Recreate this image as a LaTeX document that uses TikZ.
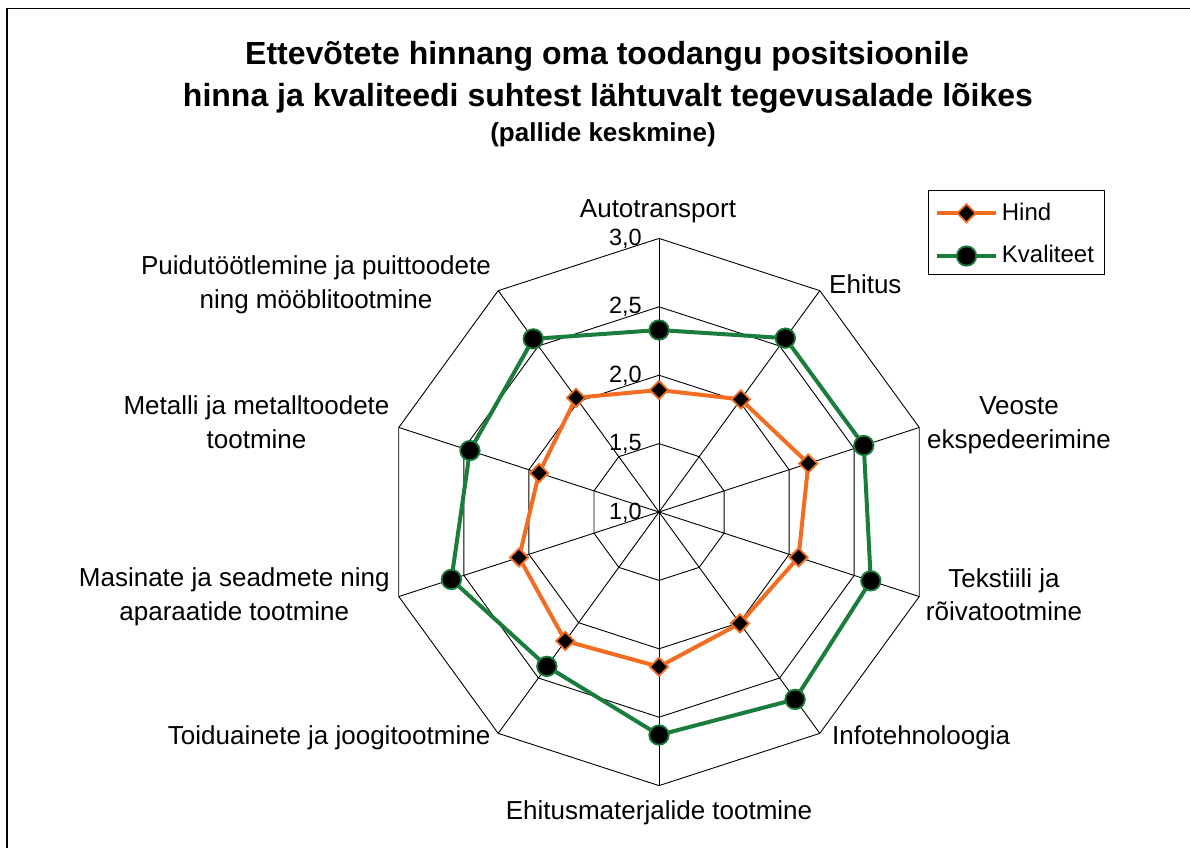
\documentclass[tikz,border=0pt]{standalone}
\usepackage{fontspec}
\setmainfont{Liberation Sans}
\usetikzlibrary{shapes.geometric}
\definecolor{hcol}{RGB}{242,108,34}
\definecolor{kcol}{RGB}{26,125,60}
\begin{document}
\begin{tikzpicture}[x=1pt,y=-1pt,
  lbl/.style={inner sep=0pt, font=\fontsize{26}{33.5}\selectfont, align=center},
  num/.style={inner sep=0pt, font=\fontsize{23.5}{28}\selectfont, anchor=base east},
  ttl/.style={inner sep=0pt, font=\fontsize{32}{40}\selectfont\bfseries, anchor=base},
  grid/.style={black, line width=0.9pt},
  hline/.style={hcol, line width=4pt, line join=round},
  kline/.style={kcol, line width=4pt, line join=round},
  hmark/.style={diamond, draw=hcol, fill=black, line width=1.8pt, minimum size=19pt, inner sep=0pt},
  kmark/.style={circle, draw=kcol, fill=black, line width=1.8pt, minimum size=19.5pt, inner sep=0pt},
]
\useasboundingbox (0,0) rectangle (1190,847);
\fill[white] (0,0) rectangle (1190,847);
\coordinate (fb) at (7,848);
\coordinate (fc) at (7,8.5);
\coordinate (fr) at (1191,8.5);
\draw[line width=1.8pt] (fb) -- (fc) -- (fr);

% title
\node[ttl] (t1) at (607,64) {Ettevõtete hinnang oma toodangu positsioonile};
\node[ttl] (t2) at (608,106) {hinna ja kvaliteedi suhtest lähtuvalt tegevusalade lõikes};
\node[ttl, font=\fontsize{26}{30}\selectfont\bfseries] (t3) at (603,141.5) {(pallide keskmine)};

\begin{scope}[shift={(659,512)}, yscale=-1]
  \coordinate (c) at (0,0);
  \foreach \i in {1,...,4} {
    \draw[grid] (90:68.4*\i) \foreach \k in {1,...,9}{ -- (90-36*\k:68.4*\i)} -- cycle;
  }
  \foreach \k in {0,...,9} {
    \draw[grid] (c) -- (90-36*\k:273.6) coordinate (o\k);
  }
  \foreach \r [count=\k from 0] in {122,139.2,157.0,146.7,137.7,154.7,159.4,147.1,126.1,141.2}
    \coordinate (hp\k) at (90-36*\k:\r);
  \foreach \r [count=\k from 0] in {182,214.9,215.3,222.7,231.6,223,190.8,218.3,198.8,214}
    \coordinate (kp\k) at (90-36*\k:\r);
  \draw[hline] (hp0) -- (hp1) -- (hp2) -- (hp3) -- (hp4) -- (hp5) -- (hp6) -- (hp7) -- (hp8) -- (hp9) -- cycle;
  \draw[kline] (kp0) -- (kp1) -- (kp2) -- (kp3) -- (kp4) -- (kp5) -- (kp6) -- (kp7) -- (kp8) -- (kp9) -- cycle;
  \foreach \k in {0,...,9} {
    \node[hmark] (h\k) at (hp\k) {};
    \node[kmark] (k\k) at (kp\k) {};
  }
\end{scope}

% scale numbers
\node[num] (n10) at (642,519) {1,0};
\node[num] (n15) at (642,450.6) {1,5};
\node[num] (n20) at (642,382.2) {2,0};
\node[num] (n25) at (642,313.8) {2,5};
\node[num] (n30) at (642,245.6) {3,0};

% axis labels (multi-line: base = last line's baseline)
\node[lbl, anchor=base] (L0) at (658,217.6) {Autotransport};
\node[lbl, anchor=base west] (L1) at (829,293) {Ehitus};
\node[lbl, anchor=base] (L2) at (1019,448.3) {Veoste\\ekspedeerimine};
\node[lbl, anchor=base] (L3) at (1004,620.5) {Tekstiili ja\\rõivatootmine};
\node[lbl, anchor=base west] (L4) at (832,744.3) {Infotehnoloogia};
\node[lbl, anchor=base] (L5) at (659,819.3) {Ehitusmaterjalide tootmine};
\node[lbl, anchor=base east] (L6) at (490.5,744.3) {Toiduainete ja joogitootmine};
\node[lbl, anchor=base] (L7) at (234.3,620.2) {Masinate ja seadmete ning\\aparaatide tootmine};
\node[lbl, anchor=base] (L8) at (256.5,448.3) {Metalli ja metalltoodete\\tootmine};
\node[lbl, anchor=base] (L9) at (316,308.4) {Puidutöötlemine ja puittoodete\\ning mööblitootmine};

% legend
\node[draw, line width=0.9pt, minimum width=176, minimum height=84, inner sep=0pt, anchor=north west] (leg) at (928,190) {};
\coordinate (l1a) at (937,213.3);
\coordinate (l1b) at (996,213.3);
\coordinate (l2a) at (937,256);
\coordinate (l2b) at (996,256);
\draw[hline] (l1a) -- (l1b);
\draw[kline] (l2a) -- (l2b);
\node[hmark] (lh) at (966.5,213.3) {};
\node[kmark] (lk) at (966.5,256) {};
\node[inner sep=0pt, anchor=base west, font=\fontsize{24}{28}\selectfont] (lht) at (1001.7,220) {Hind};
\node[inner sep=0pt, anchor=base west, font=\fontsize{24}{28}\selectfont] (lkt) at (1001.7,262.3) {Kvaliteet};
\end{tikzpicture}
\end{document}
